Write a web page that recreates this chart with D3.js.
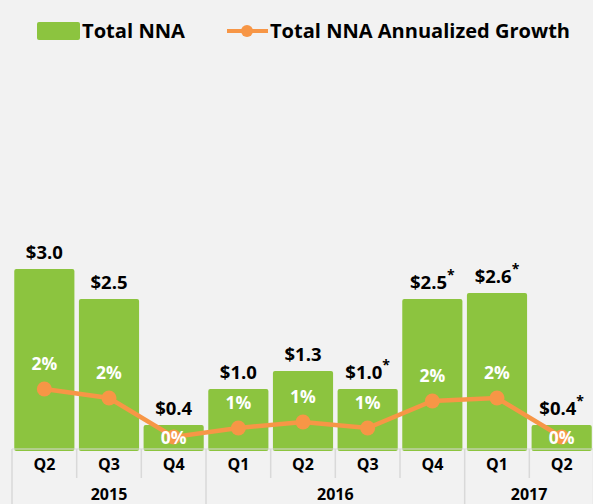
<!DOCTYPE html>
<html>
<head>
<meta charset="utf-8">
<script src="https://cdn.jsdelivr.net/npm/d3@7"></script>
<style>
  body { margin: 0; background: #f2f2f2; }
  svg { display: block; font-family: "Open Sans", sans-serif; font-weight: bold; }
</style>
</head>
<body>
<svg id="chart" width="593" height="504"></svg>
<script>
// quarter labels, years and the two series
const quarters = ["Q2", "Q3", "Q4", "Q1", "Q2", "Q3", "Q4", "Q1", "Q2"];
const years = ["2015", "2015", "2015", "2016", "2016", "2016", "2016", "2017", "2017"];
const nna = [3.0, 2.5, 0.4, 1.0, 1.3, 1.0, 2.5, 2.6, 0.4];
const starred = [false, false, false, false, false, true, true, true, true];
const growth = [2.0, 1.7, 0.4, 0.7, 0.9, 0.7, 1.6, 1.7, 0.4];

const green = "#8cc43f", orange = "#f79646", grid = "#d9d9d9";
const svg = d3.select("#chart");
const baseY = 449;

const x = d3.scaleBand(d3.range(quarters.length), [12, 594])
  .paddingInner(0.07).paddingOuter(0.035);
const y = d3.scaleLinear([0, 3], [baseY, baseY - 180]);
const yg = d3.scaleLinear([0, 2], [baseY, baseY - 60]);

// legend
const leg = svg.append("g");
leg.append("rect").attr("x", 37).attr("y", 22).attr("width", 43).attr("height", 18)
  .attr("rx", 2).attr("fill", green);
leg.append("text").attr("x", 82).attr("y", 38).attr("font-size", 20)
  .attr("textLength", 103).attr("lengthAdjust", "spacingAndGlyphs").text("Total NNA");
leg.append("line").attr("x1", 227).attr("x2", 268).attr("y1", 31).attr("y2", 31)
  .attr("stroke", orange).attr("stroke-width", 4);
leg.append("circle").attr("cx", 247).attr("cy", 31).attr("r", 6).attr("fill", orange);
leg.append("text").attr("x", 270).attr("y", 38).attr("font-size", 20)
  .attr("textLength", 300).attr("lengthAdjust", "spacingAndGlyphs")
  .text("Total NNA Annualized Growth");

// bars
svg.selectAll("rect.bar").data(nna).enter().append("rect")
  .attr("class", "bar")
  .attr("x", (d, i) => x(i))
  .attr("width", x.bandwidth())
  .attr("y", d => y(d))
  .attr("height", d => baseY - y(d) + 2)
  .attr("rx", 2)
  .attr("fill", green);

// value labels
const vl = svg.selectAll("text.val").data(nna).enter().append("text")
  .attr("class", "val")
  .attr("x", (d, i) => x(i) + x.bandwidth() / 2)
  .attr("y", d => y(d) - 10)
  .attr("text-anchor", "middle")
  .attr("font-size", 18.5)
  .attr("fill", "#000");
vl.append("tspan").text(d => "$" + d.toFixed(1));
vl.filter((d, i) => starred[i]).append("tspan")
  .attr("dy", -9).attr("font-size", 14).text("*");

// axis separators
svg.append("line").attr("x1", 12).attr("x2", 594).attr("y1", baseY).attr("y2", baseY)
  .attr("stroke", grid);
const bounds = d3.range(quarters.length + 1).map(i => i === quarters.length ? 593.5 : x(i) - x.step() * x.paddingInner() / 2);
bounds.forEach((bx, i) => {
  const yearEdge = i === 0 || i === quarters.length || years[i] !== years[i - 1];
  svg.append("line")
    .attr("x1", bx).attr("x2", bx)
    .attr("y1", baseY).attr("y2", yearEdge ? 504 : 478)
    .attr("stroke", grid).attr("stroke-width", 1.5);
});

// quarter tick labels
const xAxis = d3.axisBottom(x).tickSize(0).tickPadding(0).tickFormat(i => quarters[i]);
svg.append("g")
  .attr("transform", "translate(0," + (baseY + 10) + ")")
  .call(xAxis)
  .call(g => g.select(".domain").remove())
  .call(g => g.selectAll("text")
    .attr("font-family", "'Open Sans', sans-serif").attr("font-weight", "bold")
    .attr("font-size", 16).attr("fill", "#000"));

// year labels
const yearGroups = d3.groups(d3.range(years.length), i => years[i]);
svg.selectAll("text.year").data(yearGroups).enter().append("text")
  .attr("class", "year")
  .attr("x", d => (bounds[d[1][0]] + bounds[d[1][d[1].length - 1] + 1]) / 2)
  .attr("y", 500)
  .attr("text-anchor", "middle")
  .attr("font-size", 16)
  .text(d => d[0]);

// growth line
const line = d3.line().x((d, i) => x(i) + x.bandwidth() / 2).y(d => yg(d));
svg.append("path").datum(growth)
  .attr("d", line).attr("fill", "none")
  .attr("stroke", orange).attr("stroke-width", 4.5);
svg.selectAll("circle.pt").data(growth).enter().append("circle")
  .attr("class", "pt")
  .attr("cx", (d, i) => x(i) + x.bandwidth() / 2)
  .attr("cy", d => yg(d))
  .attr("r", 7.5)
  .attr("fill", orange);

// growth labels
svg.selectAll("text.pct").data(growth).enter().append("text")
  .attr("class", "pct")
  .attr("x", (d, i) => x(i) + x.bandwidth() / 2)
  .attr("y", (d, i) => {
    const above = yg(d) - 26;
    return (above - 8 > y(nna[i]) ? above : yg(d)) + 6.5;
  })
  .attr("text-anchor", "middle")
  .attr("font-size", 17.5)
  .attr("fill", "#fff")
  .text(d => Math.round(d) + "%");
</script>
</body>
</html>
